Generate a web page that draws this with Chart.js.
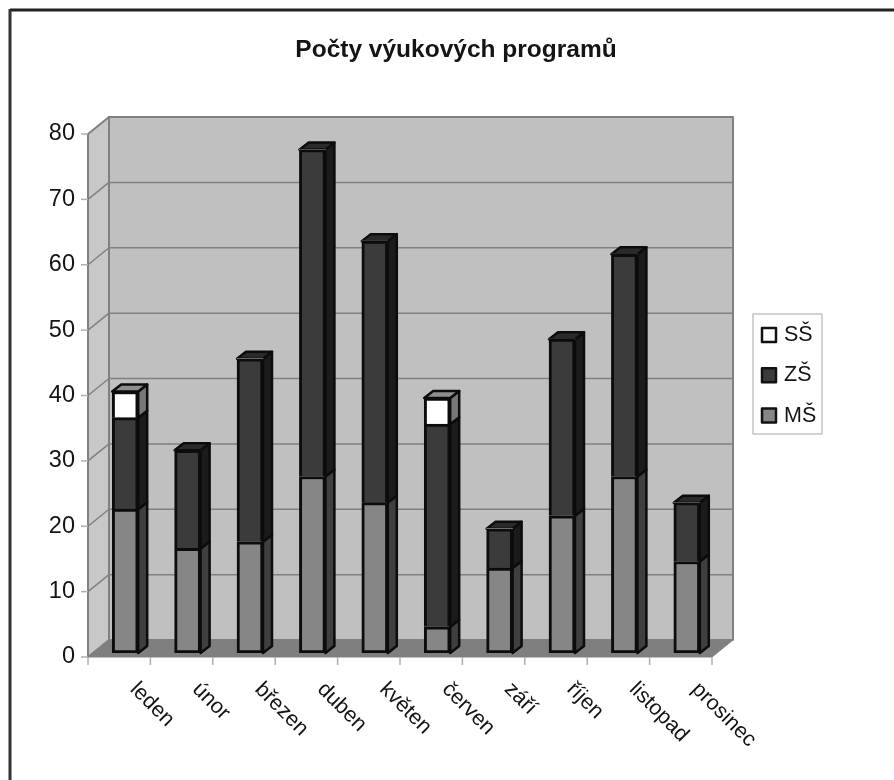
<!DOCTYPE html>
<html>
<head>
<meta charset="utf-8">
<title>Počty výukových programů</title>
<script src="https://cdn.jsdelivr.net/npm/chart.js@4"></script>
<style>
	body { margin: 0; background: #fff; }
	canvas { display: block; }
</style>
</head>
<body>
<canvas id="programy" width="894" height="780"></canvas>
<script>
var months = ['leden', 'únor', 'březen', 'duben', 'květen', 'červen', 'září', 'říjen', 'listopad', 'prosinec'];
var valuesMS = [22, 16, 17, 27, 23, 4, 13, 21, 27, 14];
var valuesZS = [14, 15, 28, 50, 40, 31, 6, 27, 34, 9];
var valuesSS = [4, 0, 0, 0, 0, 4, 0, 0, 0, 0];
var chartTitle = 'Počty výukových programů';

var FONT = '"Liberation Sans", Arial, sans-serif';
var TEXT = '#141414';
var LINE = '#808080';

// bars stand part way into the box: axis plane is in front of them, back wall behind
var front = {dx: -6, dy: 4};
var back = {dx: 15, dy: -13};
var barDepth = {dx: 9, dy: -7};

function poly(ctx, pts, fill, stroke, width) {
	ctx.beginPath();
	pts.forEach(function (p, i) { i ? ctx.lineTo(p[0], p[1]) : ctx.moveTo(p[0], p[1]); });
	ctx.closePath();
	if (fill) { ctx.fillStyle = fill; ctx.fill(); }
	if (stroke) { ctx.strokeStyle = stroke; ctx.lineWidth = width; ctx.lineJoin = 'round'; ctx.stroke(); }
}

function segment(ctx, x1, y1, x2, y2, color, width) {
	ctx.beginPath();
	ctx.moveTo(x1, y1);
	ctx.lineTo(x2, y2);
	ctx.strokeStyle = color;
	ctx.lineWidth = width;
	ctx.stroke();
}

function drawBox(chart) {
	var ctx = chart.ctx, a = chart.chartArea, y = chart.scales.y;
	var fl = a.left + front.dx, fr = a.right + front.dx, ft = a.top + front.dy, fb = a.bottom + front.dy;
	var bl = a.left + back.dx, br = a.right + back.dx, bt = a.top + back.dy, bb = a.bottom + back.dy;

	poly(ctx, [[bl, bt], [br, bt], [br, bb], [bl, bb]], '#c0c0c0', LINE, 2);
	poly(ctx, [[fl, ft], [bl, bt], [bl, bb], [fl, fb]], '#c8c8c8', LINE, 2);
	poly(ctx, [[fl, fb], [bl, bb], [br, bb], [fr, fb]], '#7f7f7f', LINE, 1);

	y.ticks.forEach(function (t) {
		var py = y.getPixelForValue(t.value);
		if (t.value > 0 && t.value < 80) {
			segment(ctx, bl, py + back.dy, br, py + back.dy, LINE, 1.5);
			segment(ctx, fl, py + front.dy, bl, py + back.dy, LINE, 1.5);
		}
		segment(ctx, fl - 7, py + front.dy, fl, py + front.dy, '#b0b0b0', 1.5);
	});
}

function drawAxisText(chart) {
	var ctx = chart.ctx, a = chart.chartArea, y = chart.scales.y;
	var fl = a.left + front.dx, fb = a.bottom + front.dy;
	var step = (a.right - a.left) / months.length;

	ctx.save();
	ctx.fillStyle = TEXT;
	ctx.font = '23.5px ' + FONT;
	ctx.textAlign = 'right';
	ctx.textBaseline = 'middle';
	y.ticks.forEach(function (t) {
		ctx.fillText(t.label, 75, y.getPixelForValue(t.value) + front.dy);
	});

	for (var i = 0; i <= months.length; i++) {
		segment(ctx, fl + i * step, fb, fl + i * step, fb + 8, '#b0b0b0', 1.5);
	}

	ctx.font = '21.5px ' + FONT;
	ctx.textAlign = 'left';
	months.forEach(function (m, i) {
		ctx.save();
		ctx.translate(fl + (i + 1) * step - 17, fb + 29);
		ctx.rotate(Math.PI / 4);
		ctx.fillText(m, 0, 0);
		ctx.restore();
	});

	ctx.font = 'bold 24.5px ' + FONT;
	ctx.textAlign = 'center';
	ctx.textBaseline = 'alphabetic';
	ctx.fillText(chartTitle, 456, 57);
	ctx.restore();
}

function drawLegend(chart) {
	var ctx = chart.ctx;
	poly(ctx, [[753, 314], [822, 314], [822, 434], [753, 434]], '#fff', '#c4c4c4', 1.5);
	ctx.save();
	ctx.font = '21.5px ' + FONT;
	ctx.textAlign = 'left';
	ctx.textBaseline = 'middle';
	chart.data.datasets.slice().reverse().forEach(function (ds, i) {
		var cy = 335 + i * 40.3;
		poly(ctx, [[762, cy - 7], [776, cy - 7], [776, cy + 7], [762, cy + 7]], ds.backgroundColor, '#111', 2.5);
		ctx.fillStyle = TEXT;
		ctx.fillText(ds.label, 784, cy);
	});
	ctx.restore();
}

function drawBarSides(chart) {
	var ctx = chart.ctx, d = barDepth;
	chart.data.datasets.forEach(function (ds, di) {
		chart.getDatasetMeta(di).data.forEach(function (bar, i) {
			if (!ds.data[i]) return;
			var r = bar.x + bar.width / 2, l = bar.x - bar.width / 2;
			poly(ctx, [[r, bar.y], [r + d.dx, bar.y + d.dy], [r + d.dx, bar.base + d.dy], [r, bar.base]], ds.sideColor, '#0c0c0c', 2.5);
			var above = chart.data.datasets.slice(di + 1).some(function (o) { return o.data[i]; });
			if (!above) {
				poly(ctx, [[l, bar.y], [l + d.dx, bar.y + d.dy], [r + d.dx, bar.y + d.dy], [r, bar.y]], ds.topColor, '#0c0c0c', 2.5);
			}
		});
	});
}

var boxPlugin = {
	id: 'box3d',
	beforeDatasetsDraw: function (chart) {
		var ctx = chart.ctx;
		// outer frame of the pasted picture: only left and top edges show
		segment(ctx, 10, 10, 894, 10, '#222', 3);
		segment(ctx, 10, 9, 10, 780, '#333', 3);
		drawBox(chart);
		drawAxisText(chart);
		drawLegend(chart);
		drawBarSides(chart);
	}
};

function barBorder(c) { return c.raw ? 3 : 0; }
// upper segments share the joint line with the one below
function barSkipped(c) { return c.datasetIndex ? 'bottom' : false; }

new Chart(document.getElementById('programy').getContext('2d'), {
	type: 'bar',
	data: {
		labels: months,
		datasets: [
			{label: 'MŠ', data: valuesMS, backgroundColor: '#868686', sideColor: '#3f3f3f', topColor: '#666666'},
			{label: 'ZŠ', data: valuesZS, backgroundColor: '#3b3b3b', sideColor: '#1b1b1b', topColor: '#2a2a2a'},
			{label: 'SŠ', data: valuesSS, backgroundColor: '#ffffff', sideColor: '#777777', topColor: '#8e8e8e'}
		]
	},
	plugins: [boxPlugin],
	options: {
		responsive: false,
		animation: false,
		layout: { padding: { left: 94, right: 176, top: 130, bottom: 127 } },
		datasets: { bar: { barThickness: 26, borderColor: '#0c0c0c', borderWidth: barBorder, borderSkipped: barSkipped } },
		plugins: { legend: { display: false }, title: { display: false }, tooltip: { enabled: false } },
		scales: {
			x: { stacked: true, display: false },
			y: { stacked: true, display: false, min: 0, max: 80, ticks: { stepSize: 10 } }
		}
	}
});
</script>
</body>
</html>
